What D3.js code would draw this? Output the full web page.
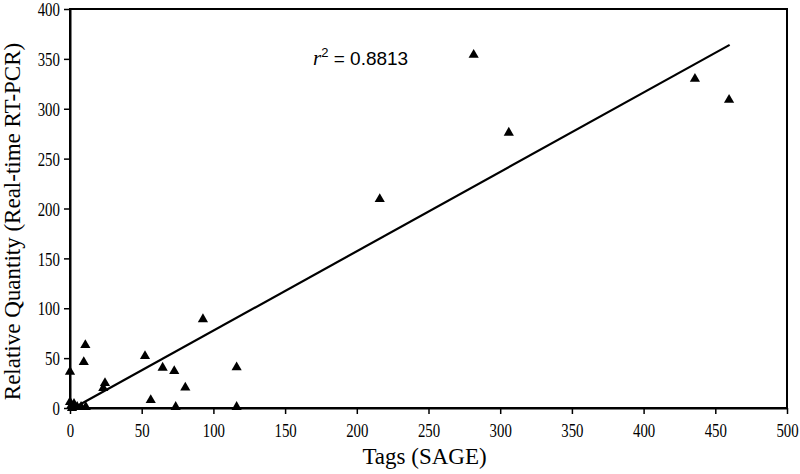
<!DOCTYPE html>
<html><head><meta charset="utf-8">
<script src="https://cdn.jsdelivr.net/npm/d3@7"></script>
<style>body{margin:0;background:#fff}</style>
</head><body>
<svg id="c" width="800" height="474"></svg>
<script>
const tagsX = [281.5, 435.8, 459.6, 306, 216, 92.7, 52.3, 10.7, 9.6, 0, 64.6, 72.7, 116.2, 80.4, 56.3, 73.7, 116.2, 24.4, 23.2, 0, 0.7, 2.8, 5, 7.7, 11, 1.4];
const qtyY  = [354, 330, 309, 276, 209.5, 89, 52, 63, 46, 36.4, 40.4, 37, 40.8, 20.4, 8, 1, 1, 25, 20, 6, 2, 4, 1, 1, 1, 0];
const trendX = [0, 460];
const trendY = [-2, 364];
const xTicks = [0,50,100,150,200,250,300,350,400,450,500];
const yTicks = [0,50,100,150,200,250,300,350,400];
const xTitle = "Tags (SAGE)";
const yTitle = "Relative Quantity (Real-time RT-PCR)";
const r2Value = "0.8813";

const svg = d3.select("#c");
const L=70, R=787, T=9, B=408;
const x = d3.scaleLinear().domain([0,500]).range([L,R]);
const y = d3.scaleLinear().domain([0,400]).range([B,T]);

svg.append("rect").attr("x",L).attr("y",T).attr("width",R-L).attr("height",B-T)
  .attr("fill","none").attr("stroke","#000").attr("stroke-width",2);

const xa = svg.append("g").attr("transform",`translate(0,${B})`)
  .call(d3.axisBottom(x).tickValues(xTicks).tickSize(6).tickSizeOuter(0).tickPadding(9));
const ya = svg.append("g").attr("transform",`translate(${L},0)`)
  .call(d3.axisLeft(y).tickValues(yTicks).tickSize(6).tickSizeOuter(0).tickPadding(7));
[xa,ya].forEach(a=>{
  a.attr("font-family","'Liberation Serif', serif");
  a.select(".domain").attr("stroke","#000").attr("stroke-width",2);
  a.selectAll(".tick line").attr("stroke","#000").attr("stroke-width",1.5);
  a.selectAll("text").attr("font-family","'Liberation Serif', serif").attr("font-size",19).attr("fill","#000");
});
xa.selectAll(".tick text").attr("transform","scale(0.78,1)").attr("dy","0.72em");
ya.selectAll(".tick text").attr("transform","scale(0.78,1)").attr("dy","0.35em");

const pts = tagsX.map((v,i)=>[v,qtyY[i]]);
svg.append("g").selectAll("path").data(pts).join("path")
  .attr("transform",d=>`translate(${x(d[0])},${y(d[1])})`)
  .attr("d",d3.symbol(d3.symbolTriangle,45))
  .attr("fill","#000");

svg.append("path").datum(trendX.map((v,i)=>[v,trendY[i]]))
  .attr("d",d3.line().x(d=>x(d[0])).y(d=>y(d[1])))
  .attr("stroke","#000").attr("stroke-width",2.2).attr("fill","none");

svg.append("text").attr("x",(L+R)/2 - 4).attr("y",464).attr("text-anchor","middle")
  .attr("font-family","'Liberation Serif', serif").attr("font-size",23).text(xTitle);
svg.append("text").attr("transform",`translate(20,${(T+B)/2 + 13}) rotate(-90)`).attr("text-anchor","middle")
  .attr("font-family","'Liberation Serif', serif").attr("font-size",23).text(yTitle);

const rt = svg.append("text").attr("x",313).attr("y",65)
  .attr("font-family","'Liberation Sans', sans-serif").attr("font-size",19);
rt.append("tspan").attr("font-family","'Liberation Serif', serif").attr("font-style","italic").attr("font-size",21).text("r");
rt.append("tspan").attr("dy",-8).attr("font-size",13).text("2");
rt.append("tspan").attr("dy",8).text(" = " + r2Value);
</script>
</body></html>
